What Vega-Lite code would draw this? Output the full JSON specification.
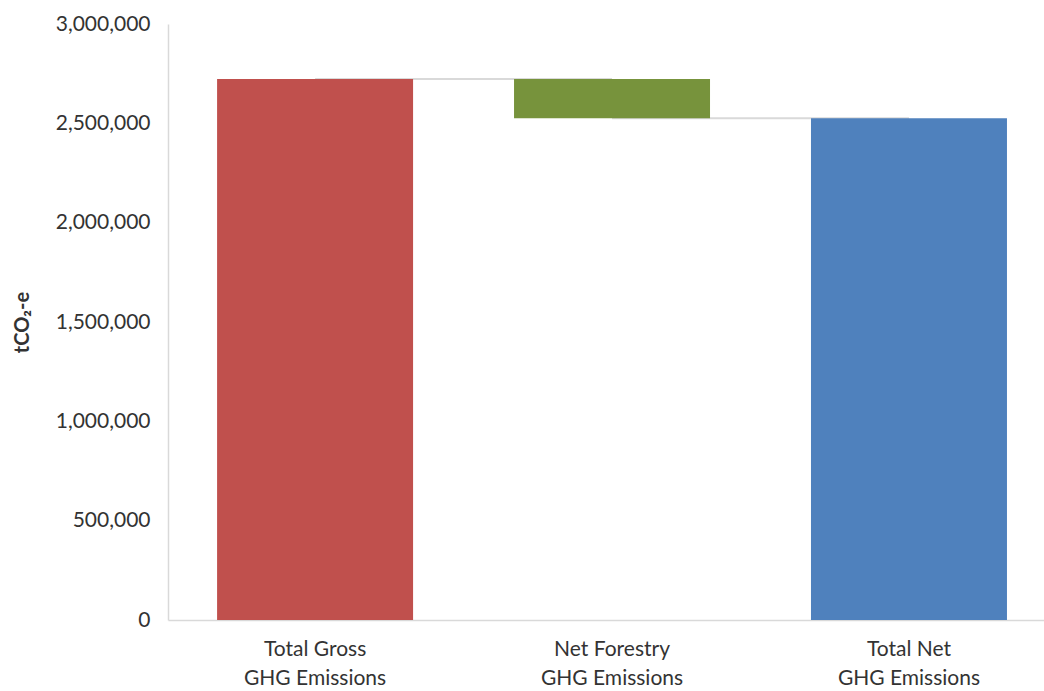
{
  "$schema": "https://vega.github.io/schema/vega-lite/v6.json",
  "autosize": {"type": "none"},
  "padding": {"left": 168, "top": 24, "right": 0, "bottom": 71},
  "width": 876,
  "height": 596,
  "background": "white",
  "config": {
    "view": {"stroke": null},
    "font": "Lato",
    "axis": {"labelFont": "Lato", "titleFont": "Lato"}
  },
  "datasets": {
    "bars": [
      {"category": "Total Gross GHG Emissions", "start": 0, "end": 2723000},
      {"category": "Net Forestry GHG Emissions", "start": 2525000, "end": 2723000},
      {"category": "Total Net GHG Emissions", "start": 0, "end": 2525000}
    ],
    "links": [
      {"from": "Total Gross GHG Emissions", "to": "Net Forestry GHG Emissions", "level": 2723000},
      {"from": "Net Forestry GHG Emissions", "to": "Total Net GHG Emissions", "level": 2525000}
    ]
  },
  "layer": [
    {
      "data": {"name": "links"},
      "mark": {"type": "rule", "color": "#D9D9D9", "strokeWidth": 2},
      "encoding": {
        "x": {"field": "from", "type": "nominal", "sort": null},
        "x2": {"field": "to"},
        "y": {"field": "level", "type": "quantitative"}
      }
    },
    {
      "data": {"name": "bars"},
      "mark": {"type": "bar"},
      "encoding": {
        "x": {
          "field": "category",
          "type": "nominal",
          "sort": null,
          "scale": {
            "domain": ["Total Gross GHG Emissions", "Net Forestry GHG Emissions", "Total Net GHG Emissions"],
            "paddingInner": 0.34,
            "paddingOuter": 0.145,
            "align": 0.57
          },
          "axis": {
            "title": null,
            "labelAngle": 0,
            "labelAlign": "center",
            "ticks": false,
            "domainColor": "#D9D9D9",
            "domainWidth": 1.5,
            "labelFontSize": 21,
            "labelColor": "#333333",
            "labelPadding": 18,
            "labelLineHeight": 29,
            "labelBaseline": "top",
            "labelExpr": "[slice(datum.label, 0, indexof(datum.label, ' GHG')), 'GHG Emissions']"
          }
        },
        "y": {
          "field": "start",
          "type": "quantitative",
          "scale": {"domain": [0, 3000000], "nice": false},
          "axis": {
            "title": "tCO₂-e",
            "values": [0, 500000, 1000000, 1500000, 2000000, 2500000, 3000000],
            "format": ",.0f",
            "grid": false,
            "ticks": false,
            "domainColor": "#D9D9D9",
            "domainWidth": 1.5,
            "labelFontSize": 21,
            "labelColor": "#333333",
            "labelPadding": 18,
            "titleFontSize": 20,
            "titleFontWeight": "bold",
            "titleColor": "#333333",
            "titleAngle": -90,
            "titleX": -146,
            "titleY": 298,
            "titleAlign": "center",
            "titleBaseline": "middle"
          }
        },
        "y2": {"field": "end"},
        "color": {
          "field": "category",
          "type": "nominal",
          "scale": {
            "domain": ["Total Gross GHG Emissions", "Net Forestry GHG Emissions", "Total Net GHG Emissions"],
            "range": ["#C0504D", "#77933C", "#4F81BD"]
          },
          "legend": null
        }
      }
    }
  ]
}
